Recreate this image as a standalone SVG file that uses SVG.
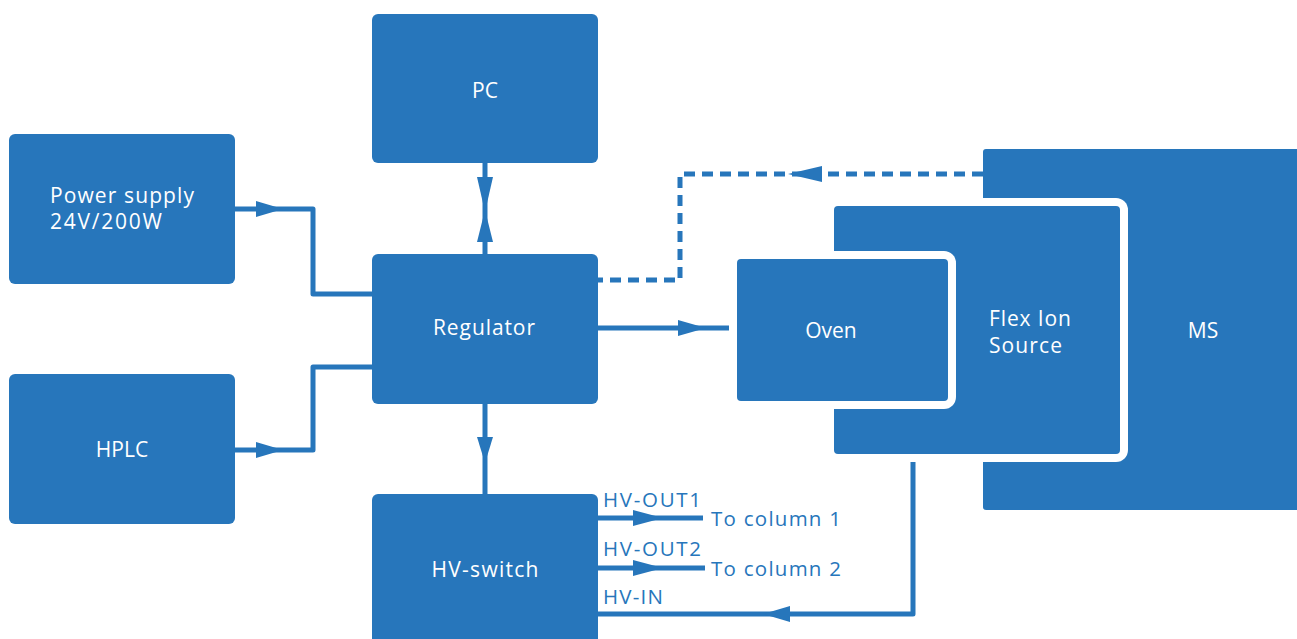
<svg xmlns="http://www.w3.org/2000/svg" width="1297" height="639" viewBox="0 0 1297 639">
<defs>
<style>
.node{fill:#2776BB}
.halo{fill:#fff}
.lbl{fill:#fff;font-family:"Open Sans","Noto Sans",sans-serif;font-size:21px}
.port{fill:#2776BB;font-family:"Open Sans","Noto Sans",sans-serif;font-size:20.5px}
.wire{fill:none;stroke:#2776BB;stroke-width:5;stroke-linejoin:round}
.dash{stroke-dasharray:11,7}
.ah{fill:#2776BB}
</style>
</defs>
<rect width="1297" height="639" fill="#fff"/>
<g id="connectors">
<path class="wire" d="M235 209 H313 V294 H372"/>
<polygon class="ah" points="256,201 283,209 256,217"/>
<path class="wire" d="M235 450 H313 V367 H372"/>
<polygon class="ah" points="256,442 283,450 256,458"/>
<path class="wire" d="M485 163 V254"/>
<polygon class="ah" points="477,177 493,177 485,212"/>
<polygon class="ah" points="477,242 493,242 485,210"/>
<path class="wire" d="M485 404 V494"/>
<polygon class="ah" points="477,437 493,437 485,463"/>
<path class="wire" d="M598 328 H737"/>
<polygon class="ah" points="678,320 706,328 678,336"/>
<path class="wire dash" d="M983 174 H680 V280 H598"/>
<polygon class="ah" points="822,166 788,174 822,182"/>
<path class="wire" d="M913 453 V614 H598"/>
<polygon class="ah" points="790,606 763,614 790,622"/>
<path class="wire" d="M598 518 H703"/>
<polygon class="ah" points="633,510 663,518 633,526"/>
<path class="wire" d="M598 568 H705"/>
<polygon class="ah" points="633,560 663,568 633,576"/>
</g>
<g id="pc"><rect class="node" x="372" y="14" width="226" height="149" rx="6"/><text class="lbl" x="485" y="98" text-anchor="middle">PC</text></g>
<g id="power"><rect class="node" x="9" y="134" width="226" height="150" rx="6"/><text class="lbl" x="50" y="203" textLength="144">Power supply</text><text class="lbl" x="50" y="229" textLength="112">24V/200W</text></g>
<g id="hplc"><rect class="node" x="9" y="374" width="226" height="150" rx="6"/><text class="lbl" x="122" y="457" text-anchor="middle">HPLC</text></g>
<g id="regulator"><rect class="node" x="372" y="254" width="226" height="150" rx="6"/><text class="lbl" x="484" y="335" text-anchor="middle" textLength="102">Regulator</text></g>
<g id="hvswitch"><rect class="node" x="372" y="494" width="226" height="160" rx="6"/><text class="lbl" x="485" y="577" text-anchor="middle" textLength="107">HV-switch</text>
<text class="port" x="603" y="507" textLength="98">HV-OUT1</text><text class="port" x="603" y="556" textLength="98">HV-OUT2</text><text class="port" x="603" y="604" textLength="60">HV-IN</text>
<text class="port" x="711" y="526" textLength="130">To column 1</text><text class="port" x="711" y="576" textLength="130">To column 2</text></g>
<g id="ms"><rect class="node" x="983" y="149" width="330" height="361" rx="3"/><text class="lbl" x="1203" y="338" text-anchor="middle">MS</text></g>
<g id="flex"><rect class="halo" x="826" y="198" width="302" height="264" rx="12"/><rect class="node" x="834" y="206" width="286" height="248" rx="4"/><text class="lbl" x="989" y="326" textLength="82">Flex Ion</text><text class="lbl" x="989" y="353" textLength="73">Source</text></g>
<g id="oven"><rect class="halo" x="729" y="251" width="227" height="158" rx="12"/><rect class="node" x="737" y="259" width="211" height="142" rx="4"/><text class="lbl" x="831" y="338" text-anchor="middle">Oven</text></g>
</svg>
